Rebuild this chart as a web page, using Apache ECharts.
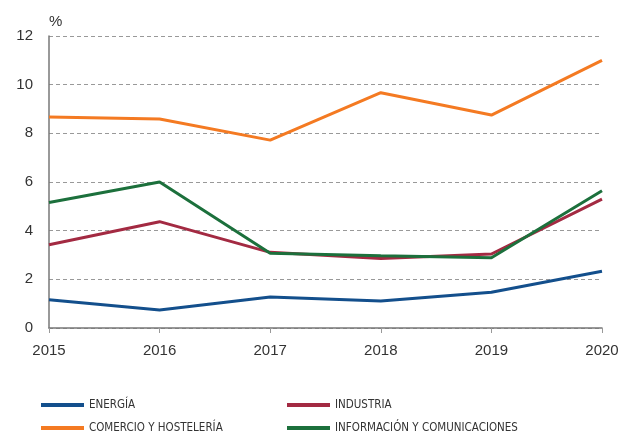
<!DOCTYPE html>
<html>
<head>
<meta charset="utf-8">
<script src="https://cdn.jsdelivr.net/npm/echarts@6/dist/echarts.min.js"></script>
<style>
  html, body { margin: 0; padding: 0; background: #fff; }
  #chart { width: 623px; height: 434px; }
</style>
</head>
<body>
<div id="chart"></div>
<script>
const years = ["2015", "2016", "2017", "2018", "2019", "2020"];
const energia = [1.16, 0.74, 1.27, 1.11, 1.47, 2.33];
const industria = [3.42, 4.37, 3.11, 2.86, 3.04, 5.3];
const comercio = [8.67, 8.59, 7.72, 9.67, 8.75, 11.0];
const informacion = [5.16, 6.0, 3.07, 2.97, 2.89, 5.64];

const chart = echarts.init(document.getElementById("chart"));

// one legend per item so the two columns line up like the original
const legendItem = (name, left, top) => ({
  data: [name],
  left: left,
  top: top,
  itemWidth: 43,
  itemHeight: 4,
  itemGap: 7,
  icon: "rect",
  padding: 0,
  textStyle: {
    fontFamily: "'Liberation Sans Narrow', 'DejaVu Sans Condensed', sans-serif",
    fontSize: 11.5,
    color: "#333",
  },
});

const option = {
  animation: false,
  textStyle: { fontFamily: "'Liberation Sans', Arial, sans-serif" },
  grid: { left: 49, right: 21, top: 36, bottom: 106 },
  legend: [
    legendItem("ENERGÍA", 41, 399),
    legendItem("COMERCIO Y HOSTELERÍA", 41, 422),
    legendItem("INDUSTRIA", 287, 399),
    legendItem("INFORMACIÓN Y COMUNICACIONES", 287, 422),
  ],
  xAxis: {
    type: "category",
    data: years,
    boundaryGap: false,
    axisLine: { lineStyle: { color: "#777", width: 1.5 } },
    axisTick: { show: true, length: 5, lineStyle: { color: "#999" } },
    axisLabel: { color: "#333", fontSize: 15, margin: 15 },
  },
  yAxis: {
    type: "value",
    min: 0,
    max: 12,
    interval: 2,
    name: "%",
    nameLocation: "end",
    nameGap: 7,
    nameTextStyle: { color: "#333", fontSize: 15, align: "left", padding: [0, 0, 0, 0] },
    axisLine: { show: true, lineStyle: { color: "#777", width: 1.5 } },
    axisTick: { show: false },
    axisLabel: { color: "#333", fontSize: 15, margin: 16 },
    splitLine: { lineStyle: { color: "#999", type: [4, 3] } },
  },
  series: [
    { name: "ENERGÍA", type: "line", data: energia, color: "#134f8c" },
    { name: "INDUSTRIA", type: "line", data: industria, color: "#a32a42" },
    { name: "COMERCIO Y HOSTELERÍA", type: "line", data: comercio, color: "#f47a22" },
    { name: "INFORMACIÓN Y COMUNICACIONES", type: "line", data: informacion, color: "#1c703c" },
  ].map(s => Object.assign(s, {
    symbol: "none",
    lineStyle: { width: 3 },
  })),
};

chart.setOption(option);
window.addEventListener("resize", () => chart.resize());
</script>
</body>
</html>
